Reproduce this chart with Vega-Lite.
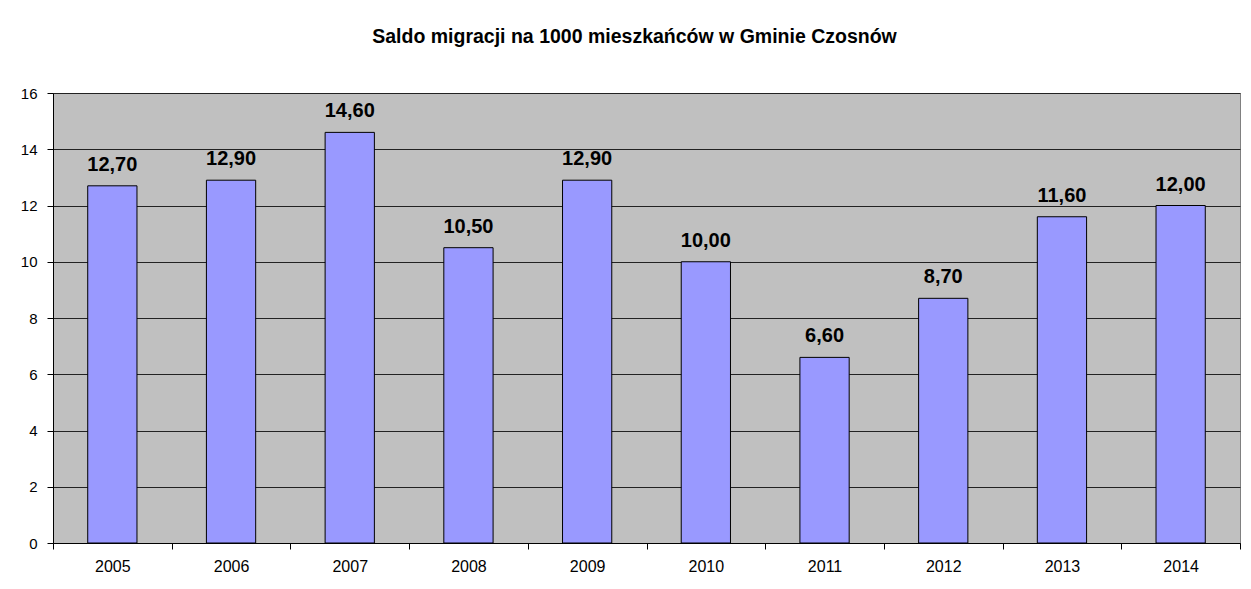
{
  "$schema": "https://vega.github.io/schema/vega-lite/v6.json",
  "width": 1187,
  "height": 450,
  "autosize": {"type": "none"},
  "padding": {"left": 53, "top": 93, "right": 11, "bottom": 46},
  "background": "white",
  "config": {
    "locale": {"number": {"decimal": ",", "thousands": " ", "grouping": [3], "currency": ["", " zł"]}},
    "font": "Liberation Sans",
    "view": {"fill": "#C0C0C0", "stroke": "#808080", "strokeWidth": 1}
  },
  "title": {
    "text": "Saldo migracji na 1000 mieszkańców w Gminie Czosnów",
    "font": "Liberation Sans",
    "fontSize": 19.5,
    "fontWeight": "bold",
    "color": "black",
    "anchor": "middle",
    "dx": -12,
    "offset": 39
  },
  "data": {
    "values": [
      {"rok": "2005", "saldo": 12.7},
      {"rok": "2006", "saldo": 12.9},
      {"rok": "2007", "saldo": 14.6},
      {"rok": "2008", "saldo": 10.5},
      {"rok": "2009", "saldo": 12.9},
      {"rok": "2010", "saldo": 10.0},
      {"rok": "2011", "saldo": 6.6},
      {"rok": "2012", "saldo": 8.7},
      {"rok": "2013", "saldo": 11.6},
      {"rok": "2014", "saldo": 12.0}
    ]
  },
  "encoding": {
    "x": {
      "field": "rok",
      "type": "nominal",
      "scale": {"paddingInner": 0, "paddingOuter": 0},
      "axis": {
        "title": null,
        "labelAngle": 0,
        "labelFontSize": 16,
        "labelColor": "black",
        "labelPadding": 9,
        "tickBand": "extent",
        "tickSize": 6,
        "tickColor": "black",
        "domainColor": "black",
        "grid": false
      }
    },
    "y": {
      "field": "saldo",
      "type": "quantitative",
      "scale": {"domain": [0, 16], "nice": false},
      "axis": {
        "title": null,
        "values": [0, 2, 4, 6, 8, 10, 12, 14, 16],
        "labelFontSize": 15,
        "labelColor": "black",
        "labelPadding": 10,
        "tickSize": 6,
        "tickColor": "black",
        "domainColor": "black",
        "gridColor": "#222222",
        "gridOpacity": 1,
        "format": "d"
      }
    }
  },
  "layer": [
    {
      "mark": {"type": "bar", "width": {"band": 0.415}, "color": "#9999FF", "stroke": "black", "strokeWidth": 1}
    },
    {
      "mark": {"type": "text", "baseline": "alphabetic", "dy": -15, "fontSize": 20, "fontWeight": "bold", "color": "black"},
      "encoding": {
        "text": {"field": "saldo", "type": "quantitative", "format": ".2f"}
      }
    }
  ]
}
